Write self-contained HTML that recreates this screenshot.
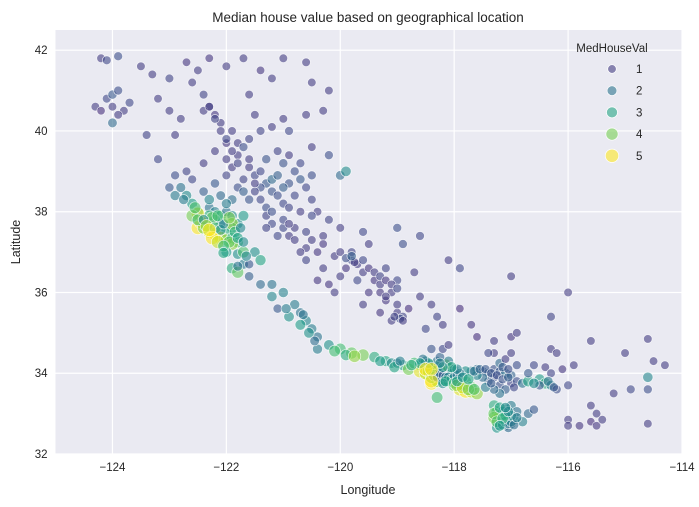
<!DOCTYPE html>
<html><head><meta charset="utf-8"><style>
body{margin:0;background:#fff;}
svg{display:block;font-family:"Liberation Sans",Arial,sans-serif;}
</style></head><body>
<svg id="chart" width="699" height="507">
<rect x="55.5" y="30" width="626.5" height="424" fill="#eaeaf2"/>
<g id="grid"></g><g id="pts"></g><g id="axes"></g><g id="legend"></g>
<text x="368" y="22" text-anchor="middle" font-size="13.5" fill="#262626">Median house value based on geographical location</text>
<text x="368" y="494" text-anchor="middle" font-size="12.5" fill="#262626">Longitude</text>
<text x="20" y="242" text-anchor="middle" font-size="12.5" fill="#262626" transform="rotate(-90 20 242)">Latitude</text>
</svg>
<script>
const lons=[-124.2,-124.1,-123.9,-124.3,-124.1,-124.0,-123.9,-124.2,-124.0,-123.8,-124.0,-123.9,-123.7,
-123.5,-123.3,-123.0,-122.7,-122.5,-122.3,-122.0,-121.7,-121.4,-121.0,-120.6,-120.5,-121.2,-122.6,-122.4,-122.3,-122.4,-122.2,-122.1,-121.9,-121.6,-121.8,-122.8,-123.2,-123.0,-122.9,-123.4,-123.2,-122.7,-122.9,-121.0,-120.6,-120.9,-120.5,-120.2,-120.0,-119.9,-120.3,-121.6,-120.2,
-122.2,-122.0,-121.8,-121.6,-121.5,-121.3,-121.4,-121.5,-121.2,-121.1,-121.0,-120.8,-120.9,-120.6,-120.5,-120.8,-121.0,-121.3,-121.3,-121.6,-121.8,-122.0,-122.2,-122.4,-121.9,-120.4,-120.2,-120.0,
-122.9,-122.7,-122.6,-122.5,-122.3,-122.2,-122.1,-122.0,-121.9,-121.8,-121.9,-122.0,-122.1,-122.2,-122.3,-122.5,-122.4,-122.45,-122.3,-122.2,-122.1,-122.0,-121.9,-121.8,-121.9,-122.0,-121.8,-121.7,-121.9,-121.8,-121.6,-121.5,-121.4,-122.25,-122.5,-123.0,-122.8,-121.9,-121.7,-122.4,
-121.2,-121.0,-120.9,-120.8,-120.6,-120.4,-120.1,-119.8,-119.7,-119.9,-119.6,-119.4,-119.3,-119.1,-119.2,-119.0,-118.9,-119.1,-118.8,-119.5,-119.7,-120.0,-120.2,-120.3,-119.2,-119.0,-118.7,-118.9,-119.5,-119.6,-120.3,-119.8,-118.6,-118.4,-118.3,-118.5,-118.2,-117.9,-117.7,-117.6,-117.3,-117.0,-116.9,-116.3,-116.0,-117.0,-118.1,-117.9,-118.6,-119.0,
-121.2,-121.0,-120.8,-120.7,-120.6,-120.5,-120.4,-120.2,-120.0,-119.8,-119.6,-119.4,-119.2,-119.1,-121.1,-120.9,-120.7,-120.4,
-118.9,-118.8,-118.7,-118.6,-118.5,-118.4,-118.45,-118.35,-118.4,-118.3,-118.3,-118.2,-118.25,-118.2,-118.1,-118.1,-118.0,-118.1,-118.15,-118.3,-118.4,-118.5,-118.3,-118.1,-118.0,-117.9,-117.8,-117.7,-117.85,-117.9,-117.8,-117.7,-117.6,-118.3,-118.05,-118.0,-118.25,-118.4,-118.2,-118.1,
-117.6,-117.5,-117.4,-117.3,-117.2,-117.1,-117.0,-117.3,-117.4,-117.2,-117.0,-116.9,-117.5,-117.6,-117.7,-117.8,-116.8,-116.7,-116.5,-116.4,-116.3,-116.5,-116.9,-117.2,-117.1,-117.3,-117.4,-117.0,-116.6,-116.4,-116.3,-116.1,-115.9,-116.0,-116.2,
-117.3,-117.25,-117.2,-117.25,-117.2,-117.15,-117.1,-117.05,-117.0,-116.95,-117.05,-117.1,-117.0,-116.9,-116.8,-117.15,-117.3,-117.25,-116.7,-116.6,
-116.0,-115.6,-115.5,-115.4,-115.5,-115.6,-115.2,-114.9,-114.6,-114.6,-114.5,-114.6,-114.3,-115.0,-116.3,-116.7,-116.0,-114.6,-115.8,-116.2,-115.6,
-122.3,-122.2,-122.1,-122.0,-121.9,-121.7,-121.6,-121.8,-121.4,-121.3,-121.1,-120.9,-121.2,-121.4,-121.5,-120.7,-120.5,-120.7,-121.0,-121.2,-121.4,-121.1,-120.9,-120.7,-120.5,-121.5,-121.7,-121.7,-122.0,-121.9,-122.0,-122.1,-122.4,-122.6,-122.3,
-122.6,-122.5,-122.4,-122.35,-122.2,-122.1,-122.05,-122.15,-121.95,-121.85,-122.25,-122.15,-121.95,-121.8,-121.7,-122.05,-122.3,-121.75,-121.7,-122.55,-122.75,-122.05,-121.8,-121.65,
-121.0,-120.8,-120.6,-120.5,-120.3,-120.0,-119.9,-119.75,-119.8,-119.6,-119.5,-119.4,-119.3,-119.2,-119.1,-119.0,-119.3,-119.2,-119.0,-118.95,-119.05,-118.9,-119.3,-119.6,-120.1,-120.4,-120.6,-120.7,-121.1,-121.3,-121.2,-120.9,
-121.6,-121.4,-121.2,-120.95,-120.65,-120.55,-120.45,-120.1,-119.9,-119.75,-119.3,-119.0,-119.05,-118.95,
-118.6,-118.5,-118.45,-118.4,-118.35,-118.3,-118.25,-118.2,-118.15,-118.1,-118.05,-118.0,-117.95,-117.9,-117.95,-118.05,-118.2,-118.25,-118.45,-118.55,-118.6,-118.75,-118.2,-118.15,-118.0,-117.95,-117.85,-117.75,-117.65,-117.95,-117.85,-117.75,-118.4,-118.5,-118.4,
-117.65,-117.55,-117.45,-117.35,-117.25,-117.15,-117.05,-117.1,-117.2,-117.3,-117.45,-117.35,-116.95,-116.6,-116.35,-116.25,-117.15,-117.05,
-117.3,-117.2,-117.25,-117.15,-117.1,-117.05,-117.0,-116.95,-117.0,-117.1,-117.15,-116.9,-117.05,-117.1,-117.2];
const lats=[41.8,41.75,41.85,40.6,40.8,40.9,41.0,40.5,40.6,40.5,40.2,40.4,40.7,
41.6,41.4,41.3,41.7,41.5,41.8,41.6,41.8,41.5,41.8,41.7,41.2,41.3,41.2,40.9,40.6,40.5,40.4,40.2,40.0,39.8,39.7,40.3,40.8,40.5,39.9,39.9,39.3,39.0,38.9,40.3,40.4,40.0,39.6,39.4,38.9,39.0,40.5,40.9,41.0,
39.5,39.7,39.4,39.1,38.9,38.7,38.6,38.5,38.8,38.9,39.2,39.0,38.7,38.6,38.3,38.4,38.2,38.1,37.9,38.3,38.6,38.9,38.7,39.2,39.1,38.0,37.8,37.6,
38.4,38.4,38.2,38.0,38.1,38.0,37.9,38.0,37.9,37.7,37.6,37.5,37.7,37.8,37.9,37.6,37.7,37.75,37.5,37.45,37.35,37.3,37.35,37.25,37.2,37.0,36.95,36.7,36.6,36.5,36.7,37.0,36.8,37.85,37.95,38.6,38.6,37.7,37.0,37.6,
37.7,37.6,37.4,37.3,37.1,37.0,36.9,36.8,36.7,36.6,36.5,36.3,36.2,36.0,35.8,35.5,35.4,35.3,35.6,36.0,36.3,36.4,36.2,36.6,36.6,36.3,36.5,37.2,37.2,37.5,37.4,37.0,35.9,35.7,35.4,35.1,35.2,35.6,35.2,34.9,34.8,34.9,35.0,35.4,36.0,36.4,36.8,36.6,37.4,37.6,
36.2,36.0,35.7,35.5,35.3,35.1,34.9,34.7,34.6,34.5,34.45,34.4,34.3,34.25,35.6,35.4,35.2,34.6,
34.2,34.1,34.25,34.2,34.1,34.05,33.95,33.85,33.75,33.8,34.0,34.05,33.9,33.8,33.8,34.0,34.05,34.15,34.2,34.15,34.2,34.3,34.3,34.3,33.7,33.6,33.55,33.55,33.7,33.85,33.8,33.65,33.5,33.4,34.0,34.1,34.4,34.6,34.6,34.7,
34.1,34.05,34.0,34.1,34.05,34.0,33.95,33.9,33.8,33.7,33.75,33.8,33.9,33.95,34.05,34.05,33.75,33.8,33.85,33.75,33.7,33.7,34.2,34.25,34.35,34.5,34.5,34.5,34.2,34.15,34.0,34.1,34.2,33.7,33.6,
33.2,33.05,32.95,32.85,32.75,32.8,32.7,32.65,32.75,32.85,32.95,33.1,33.2,33.05,32.8,33.05,32.9,32.65,33.0,33.1,
32.85,32.8,32.7,32.85,33.0,33.2,33.5,33.6,33.6,33.9,34.3,34.85,34.2,34.5,34.6,34.0,32.7,32.75,32.7,34.5,34.8,
40.6,40.3,40.0,39.8,39.5,39.6,39.3,39.2,39.0,39.3,39.5,39.4,40.1,40.0,40.4,39.2,38.9,38.8,38.6,38.5,38.3,38.4,38.1,38.0,37.9,38.7,38.5,38.8,39.3,38.3,38.2,38.4,38.5,38.8,38.3,
37.9,37.8,37.8,37.65,37.6,37.55,37.7,37.9,37.85,37.5,37.35,37.25,37.25,37.35,37.25,37.15,37.55,37.6,37.9,38.1,38.3,36.98,36.65,36.9,
37.8,37.6,37.5,37.3,37.2,37.0,36.85,36.75,36.9,36.8,36.6,36.5,36.4,36.3,36.2,36.1,36.0,35.9,35.7,35.35,35.4,35.3,35.5,35.7,36.0,36.3,36.8,37.0,37.4,37.6,38.0,37.7,
36.4,36.2,35.9,35.6,35.45,35.0,34.8,34.55,34.45,34.42,34.3,34.25,34.15,34.3,
34.05,34.0,34.05,33.9,33.95,33.9,34.0,33.95,33.9,33.9,33.85,33.9,33.95,34.0,34.1,34.15,34.15,34.25,34.25,34.35,34.25,34.2,33.75,33.8,33.75,33.7,33.65,33.6,33.6,33.8,33.9,33.85,33.8,34.1,34.1,
34.05,34.1,34.1,34.0,33.95,33.85,33.9,33.6,33.5,33.6,33.65,33.75,33.65,33.75,33.8,33.65,34.15,34.1,
33.0,33.15,32.8,32.72,32.8,32.75,32.8,32.72,32.95,32.95,32.88,32.9,33.05,33.15,32.7];
const vals=[1,1.2,1.3,1,1.2,1.5,1.3,0.8,1,1,1.8,1,1.2,
1,1,1.1,0.9,1,0.9,1,1,0.9,1,1,1,1,1,1.1,1.0,1.0,0.9,1.0,1.0,1.1,1.0,1,1,1,1,1.1,1.2,1.1,1.3,1,1,1.2,1,1.3,1.8,2.5,1,1,1.0,
1,0.9,1,1,1.2,1.5,1.3,1.1,1.8,1.6,1.4,1.3,1.4,1.2,1.1,1.2,1.2,1.3,1.1,1.4,1.3,1.1,1.5,1.0,1.0,1.0,1.1,1.0,
2.2,2.5,2.8,3.0,2.0,2.3,3.2,2.0,2.5,2.6,3.0,3.2,2.2,2.8,3.3,5.0,4.6,5.0,4.5,5.0,4.8,4.0,3.0,3.4,4.2,2.8,2.6,2.2,3.2,3.8,1.5,2.6,3.0,3.8,4.8,1.5,2.0,4.2,3.6,4.0,
1.2,1.2,1.0,1.0,1.0,0.9,1.0,1.2,1.0,0.9,1.0,0.9,1.0,1.0,0.9,1.0,1.1,1.0,0.8,0.9,1.2,1.0,0.9,1.0,1.1,1.2,1.0,1.3,1.0,1.2,1.0,1.1,1.0,1.0,1.1,1.2,1.0,0.8,0.9,0.8,1.0,0.9,1.0,1.1,1.0,1.0,1.0,1.2,1.2,1.3,
2.0,2.3,2.2,2.0,2.4,2.2,2.0,2.6,3.5,3.8,4.0,3.2,3.0,2.5,1.5,2.6,2.8,2.2,
3.0,4.0,3.5,3.0,5.0,5.0,4.5,5.0,5.0,4.0,2.0,1.8,1.7,2.5,3.0,2.2,2.5,3.2,4.0,3.0,3.5,2.5,2.0,2.2,3.8,4.8,5.0,4.5,3.2,2.8,3.5,3.8,4.2,3.5,1.8,2.0,1.7,1.4,1.2,1.0,
1.8,1.5,1.6,1.4,1.5,2.0,1.7,1.3,1.6,1.4,1.2,1.3,1.9,2.4,2.2,2.6,2.0,3.0,2.8,3.2,2.2,1.5,1.3,1.8,1.0,1.0,1.2,1.0,1.2,1.0,1.1,0.9,1.0,1.2,1.3,
3.2,3.5,4.0,4.8,3.2,2.5,2.0,1.8,2.2,2.7,3.0,2.6,2.2,2.0,2.3,2.8,4.0,2.7,1.8,1.5,
1.0,0.8,0.9,1.0,1.0,1.0,1.0,1.2,1.3,2.4,1.0,1.0,1.0,1.0,1.0,1.5,1.0,1.0,0.9,1.0,1.0,
1,1.1,1,1.2,1,1.3,1,1.1,1.2,1.4,1.1,1,1,1.1,1,1.2,1.3,1.5,1.6,1.4,1.2,1.3,1.1,1.0,1.2,1.0,1.6,1.1,1.0,1.9,2.2,1.8,1.6,1.2,2.4,
4.0,3.5,2.5,4.2,3.6,2.7,2.4,3.5,4.0,3.3,5.0,4.6,3.8,2.9,2.5,3.4,5.0,2.4,2.8,3.6,2.2,3.0,2.0,2.4,
1.2,1.0,1.1,1.0,0.9,1.0,1.3,1.0,1.6,1.2,0.9,1.0,1.1,0.9,1.0,1.2,0.9,1.0,1.0,1.3,1.1,1.0,0.9,1.0,1.0,0.9,1.1,1.0,1.2,1.1,1.3,1.0,
1.6,1.8,2.4,2.2,2.0,2.6,1.9,3.5,3.2,4.2,2.8,2.3,3.0,2.2,
4.8,4.6,4.2,4.0,3.6,1.8,1.6,1.5,2.0,2.4,2.6,2.3,2.0,1.9,2.4,3.0,2.6,2.3,2.6,2.0,2.8,3.2,2.5,3.0,3.4,4.2,4.6,4.0,3.6,2.8,2.6,3.0,5.0,5.0,4.9,
2.0,1.7,1.5,1.4,1.3,1.4,1.6,1.6,2.0,1.8,2.2,1.5,1.2,2.5,2.0,1.5,1.5,1.3,
3.8,3.0,3.6,2.3,2.6,2.0,2.4,1.9,2.5,2.9,3.3,2.2,2.4,2.5,2.8];
const xTicks=[-124,-122,-120,-118,-116,-114];
const yTicks=[32,34,36,38,40,42];
const legendVals=[1,2,3,4,5];

const NS='http://www.w3.org/2000/svg';
const X0=55.5,X1=682,Y0=454,Y1=30,LON0=-125,LON1=-114,LAT0=32,LAT1=42.5;
function xs(v){return X0+(v-LON0)/(LON1-LON0)*(X1-X0);}
function ys(v){return Y0-(v-LAT0)/(LAT1-LAT0)*(Y0-Y1);}
const stops=[[68,1,84],[72,40,120],[62,74,137],[49,104,142],[38,130,142],[31,158,137],[53,183,121],[109,205,89],[180,222,44],[253,231,37]];
function viridis(t){t=Math.max(0,Math.min(1,t));const p=t*(stops.length-1),i=Math.min(Math.floor(p),stops.length-2),f=p-i;
const c=stops[i].map((a,k)=>Math.round(a+(stops[i+1][k]-a)*f));return 'rgb('+c.join(',')+')';}
function col(v){return viridis((v-0.15)/(5.0-0.15));}
function rad(v){return 3.8+0.6*(Math.max(0.15,v)-0.15);}
function mk(tag,attrs,parent){const e=document.createElementNS(NS,tag);for(const k in attrs)e.setAttribute(k,attrs[k]);parent.appendChild(e);return e;}

const grid=document.getElementById('grid'),axes=document.getElementById('axes');
xTicks.forEach(t=>{
  const l=mk('line',{x1:xs(t),x2:xs(t),y1:Y1,y2:Y0,stroke:'#fff','stroke-width':1.2},grid);
  
  
  const tx=mk('text',{x:xs(t),y:Y0+17,'text-anchor':'middle','font-size':11.5,fill:'#262626'},axes);
  tx.textContent=String(t).replace('-','\u2212');
  
  
});
yTicks.forEach(t=>{
  const l=mk('line',{x1:X0,x2:X1,y1:ys(t),y2:ys(t),stroke:'#fff','stroke-width':1.2},grid);
  
  
  const tx=mk('text',{x:X0-8,y:ys(t)+4,'text-anchor':'end','font-size':11.5,fill:'#262626'},axes);
  tx.textContent=String(t);
  
  
});
const pts=document.getElementById('pts');
for(let i=0;i<lons.length;i++){
  const c=mk('circle',{cx:xs(lons[i]),cy:ys(lats[i]),r:rad(vals[i]),fill:col(vals[i]),'fill-opacity':0.6,stroke:'#fff','stroke-width':0.7,'stroke-opacity':0.8},pts);
  
  
}
const lg=document.getElementById('legend');
const lt=mk('text',{x:612,y:52,'text-anchor':'middle','font-size':11.5,fill:'#262626'},lg);
lt.textContent='MedHouseVal';


legendVals.forEach((v,i)=>{
  const y=69+i*21.7;
  const c=mk('circle',{cx:612,cy:y,r:rad(v),fill:col(v),'fill-opacity':0.6,stroke:'#fff','stroke-width':0.7},lg);
  
  
  const t=mk('text',{x:636,y:y+4,'font-size':11.5,fill:'#262626'},lg);
  t.textContent=String(v);
  
  
});
</script>
</body></html>
